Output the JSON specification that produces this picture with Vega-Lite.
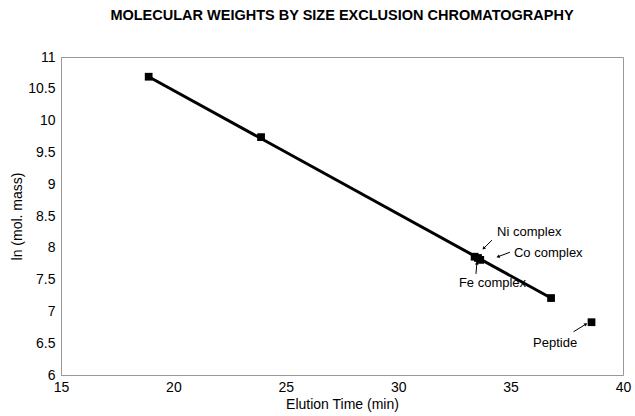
{
  "$schema": "https://vega.github.io/schema/vega-lite/v6.json",
  "width": 562,
  "height": 318,
  "autosize": {"type": "none"},
  "padding": {"left": 61, "top": 57, "right": 12, "bottom": 41},
  "background": "white",
  "config": {
    "font": "Liberation Sans",
    "view": {"stroke": "#999999", "strokeWidth": 1},
    "axis": {"grid": false, "ticks": false, "labelOverlap": false, "labelFlush": false, "domainColor": "#999999", "labelColor": "#000", "titleColor": "#000", "labelFontSize": 14, "titleFontSize": 14, "titleFontWeight": "normal", "labelFont": "Liberation Sans", "titleFont": "Liberation Sans"}
  },
  "title": {"text": "MOLECULAR WEIGHTS BY SIZE EXCLUSION CHROMATOGRAPHY", "fontSize": 14.5, "font": "Liberation Sans", "fontWeight": "bold", "color": "#000", "offset": 27, "anchor": "middle"},
  "datasets": {
    "points": [
      {"time": 18.9, "lnmass": 10.69, "group": "standard"},
      {"time": 23.9, "lnmass": 9.74, "group": "standard"},
      {"time": 33.4, "lnmass": 7.86, "group": "Fe complex"},
      {"time": 33.55, "lnmass": 7.84, "group": "Ni complex"},
      {"time": 33.65, "lnmass": 7.81, "group": "Co complex"},
      {"time": 36.8, "lnmass": 7.21, "group": "standard"},
      {"time": 38.6, "lnmass": 6.83, "group": "Peptide"}
    ],
    "fit": [
      {"time": 18.9, "lnmass": 10.69},
      {"time": 36.8, "lnmass": 7.21}
    ],
    "labels": [
      {"label": "Ni complex", "time": 34.4, "lnmass": 8.25},
      {"label": "Co complex", "time": 35.15, "lnmass": 7.92},
      {"label": "Fe complex", "time": 32.7, "lnmass": 7.45},
      {"label": "Peptide", "time": 36.0, "lnmass": 6.5}
    ],
    "arrows": [
      {"label": "Ni complex", "t0": 34.17, "m0": 8.12, "t1": 33.8, "m1": 7.99, "angle": 225},
      {"label": "Co complex", "t0": 34.97, "m0": 7.93, "t1": 34.44, "m1": 7.86, "angle": 250},
      {"label": "Fe complex", "t0": 33.46, "m0": 7.59, "t1": 33.5, "m1": 7.76, "angle": 5},
      {"label": "Peptide", "t0": 37.8, "m0": 6.68, "t1": 38.35, "m1": 6.8, "angle": 55}
    ]
  },
  "encoding": {
    "x": {"field": "time", "type": "quantitative", "scale": {"domain": [15, 40], "nice": false}, "axis": {"tickCount": 12, "values": [15, 20, 25, 30, 35, 40], "title": "Elution Time (min)", "labelPadding": 5, "titlePadding": 3, "labelOverlap": false}},
    "y": {"field": "lnmass", "type": "quantitative", "scale": {"domain": [6, 11], "nice": false}, "axis": {"tickCount": 20, "values": [6, 6.5, 7, 7.5, 8, 8.5, 9, 9.5, 10, 10.5, 11], "title": "ln (mol. mass)", "labelPadding": 6, "titlePadding": 3, "labelOverlap": false, "labelExpr": "format(datum.value, '~g')"}}
  },
  "layer": [
    {
      "data": {"name": "fit"},
      "mark": {"type": "line", "color": "#000", "strokeWidth": 3}
    },
    {
      "data": {"name": "points"},
      "mark": {"type": "square", "color": "#000", "filled": true, "opacity": 1, "size": 60}
    },
    {
      "data": {"name": "arrows"},
      "mark": {"type": "rule", "color": "#000", "strokeWidth": 1},
      "encoding": {
        "x": {"field": "t0", "type": "quantitative"},
        "y": {"field": "m0", "type": "quantitative"},
        "x2": {"field": "t1"},
        "y2": {"field": "m1"}
      }
    },
    {
      "data": {"name": "arrows"},
      "mark": {"type": "point", "shape": "triangle-up", "filled": true, "color": "#000", "opacity": 1, "size": 14},
      "encoding": {
        "x": {"field": "t1", "type": "quantitative"},
        "y": {"field": "m1", "type": "quantitative"},
        "angle": {"field": "angle", "type": "quantitative", "scale": null}
      }
    },
    {
      "data": {"name": "labels"},
      "mark": {"type": "text", "align": "left", "baseline": "middle", "fontSize": 13, "font": "Liberation Sans", "color": "#000"},
      "encoding": {
        "text": {"field": "label"}
      }
    }
  ]
}
